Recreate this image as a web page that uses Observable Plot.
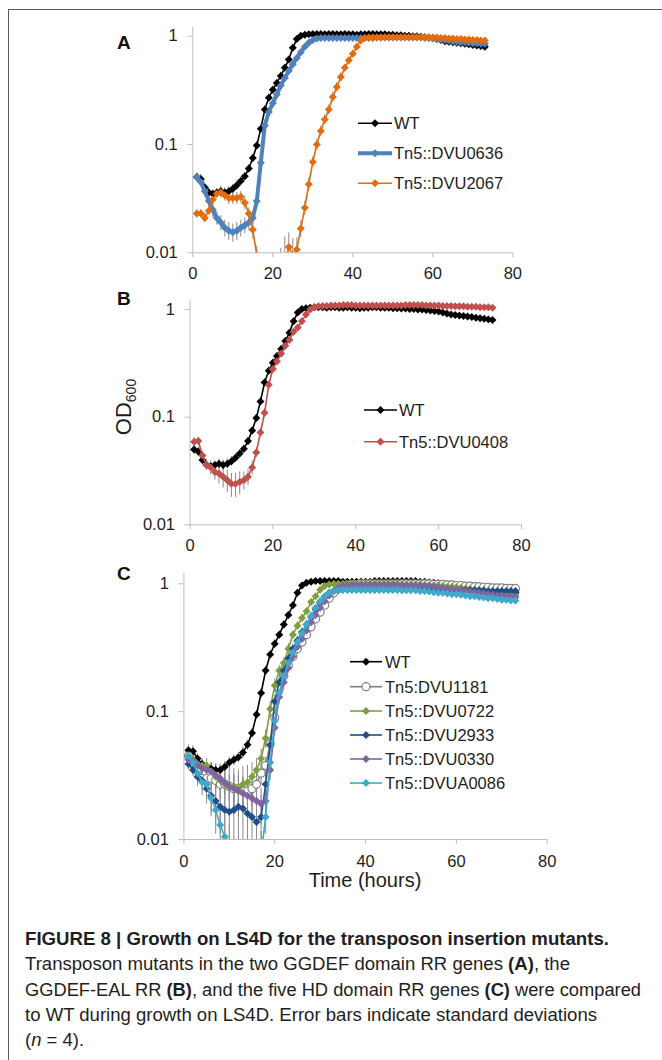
<!DOCTYPE html>
<html><head><meta charset="utf-8">
<script src="https://cdn.jsdelivr.net/npm/d3@7"></script>
<script src="https://cdn.jsdelivr.net/npm/@observablehq/plot@0.6"></script>
<style>
body{margin:0;background:#fff;}
#page{position:relative;width:662px;height:1060px;overflow:hidden;font-family:"Liberation Sans",Arial,sans-serif;}
#frame{position:absolute;left:8px;top:9px;width:800px;height:1200px;border-top:1.5px solid #5a5a5a;border-left:1.5px solid #5a5a5a;}
.panel{position:absolute;left:0;}
.cap{position:absolute;left:25px;white-space:nowrap;font-size:17.5px;color:#1e1e1e;transform-origin:0 50%;line-height:25px;}
</style></head>
<body><div id="page"><div id="frame"></div>
<div id="pA" class="panel" style="top:0px"></div>
<div id="pB" class="panel" style="top:280px"></div>
<div id="pC" class="panel" style="top:550px"></div>
<div class="cap" style="top:927px;font-weight:bold">FIGURE 8 | Growth on LS4D for the transposon insertion mutants.</div>
<div class="cap" style="top:952px">Transposon mutants in the two GGDEF domain RR genes <b>(A)</b>, the</div>
<div class="cap" style="top:978px">GGDEF-EAL RR <b>(B)</b>, and the five HD domain RR genes <b>(C)</b> were compared</div>
<div class="cap" style="top:1003px">to WT during growth on LS4D. Error bars indicate standard deviations</div>
<div class="cap" style="top:1028px">(<i>n</i> = 4).</div>
</div>
<script>
// ---------- data ----------
const hours = [1,2,3,4,5,6,7,8,9,10,11,12,13,14,15,16,17,18,19,20,21,22,23,24,25,26,27,28,29,30,31,32,33,34,35,36,37,38,39,40,41,42,43,44,45,46,47,48,49,50,51,52,53,54,55,56,57,58,59,60,61,62,63,64,65,66,67,68,69,70,71,72,73];
const xTicks = [0,20,40,60,80];
const yTicks = [0.01,0.1,1];
const yTickLabels = ["0.01","0.1","1"];

const wt = [0.050,0.048,0.040,0.036,0.035,0.036,0.037,0.036,0.037,0.039,
 0.042,0.046,0.051,0.060,0.075,0.098,0.14,0.21,0.27,0.32,
 0.37,0.43,0.51,0.61,0.78,0.94,1.01,1.03,1.04,1.05,
 1.05,1.05,1.04,1.05,1.05,1.04,1.04,1.05,1.04,1.04,
 1.03,1.04,1.04,1.05,1.05,1.04,1.04,1.04,1.03,1.03,
 1.02,1.02,1.01,1.01,1.00,1.00,0.99,0.98,0.97,0.96,
 0.94,0.92,0.90,0.89,0.88,0.87,0.86,0.85,0.84,0.83,
 0.82,0.81,0.80];
const dvu0636 = [0.050,0.045,0.037,0.030,0.025,0.021,0.019,0.017,0.016,0.0155,
 0.016,0.017,0.018,0.019,0.021,0.030,0.068,0.15,0.20,0.24,
 0.29,0.35,0.41,0.48,0.55,0.63,0.71,0.80,0.87,0.92,
 0.95,0.96,0.96,0.96,0.96,0.96,0.96,0.96,0.96,0.96,
 0.96,0.96,0.96,0.96,0.96,0.97,0.97,0.97,0.97,0.97,
 0.97,0.97,0.97,0.97,0.97,0.97,0.97,0.96,0.96,0.95,
 0.94,0.93,0.92,0.91,0.90,0.89,0.88,0.88,0.87,0.86,
 0.86,0.85,0.85];
const dvu2067 = [0.023,0.023,0.021,0.0245,0.031,0.035,0.036,0.034,0.032,0.032,
 0.032,0.033,0.029,0.023,0.0163,0.0095,0.006,0.004,0.003,0.003,
 0.004,0.006,0.008,0.0113,0.0095,0.0107,0.0168,0.026,0.043,0.069,
 0.10,0.133,0.17,0.21,0.275,0.34,0.42,0.51,0.60,0.69,
 0.80,0.91,0.96,0.97,0.97,0.97,0.97,0.98,0.98,0.98,
 0.98,0.98,0.98,0.98,0.98,0.98,0.98,0.98,0.97,0.97,
 0.97,0.96,0.96,0.95,0.95,0.94,0.94,0.93,0.93,0.92,
 0.92,0.91,0.91];
const dvu0408 = [0.059,0.060,0.044,0.036,0.034,0.031,0.030,0.028,0.026,0.024,
 0.024,0.025,0.026,0.028,0.034,0.047,0.072,0.11,0.20,0.28,
 0.33,0.39,0.46,0.52,0.62,0.68,0.78,0.90,1.00,1.05,
 1.07,1.08,1.08,1.09,1.09,1.09,1.10,1.10,1.10,1.09,
 1.09,1.09,1.09,1.09,1.09,1.09,1.09,1.09,1.09,1.09,
 1.09,1.10,1.10,1.10,1.10,1.10,1.09,1.09,1.09,1.09,
 1.08,1.08,1.08,1.07,1.07,1.07,1.06,1.06,1.06,1.05,
 1.05,1.05,1.04];
const wtC = [0.050,0.049,0.043,0.039,0.037,0.036,0.035,0.035,0.037,0.040,
 0.042,0.044,0.048,0.055,0.068,0.095,0.14,0.21,0.28,0.34,
 0.40,0.48,0.57,0.68,0.85,0.97,1.02,1.04,1.05,1.05,
 1.05,1.05,1.05,1.05,1.04,1.04,1.04,1.04,1.04,1.04,
 1.04,1.05,1.05,1.05,1.05,1.05,1.05,1.05,1.05,1.05,
 1.05,1.04,1.04,1.03,1.02,1.01,1.00,0.99,0.98,0.97,
 0.96,0.95,0.94,0.93,0.92,0.91,0.90,0.89,0.88,0.87,
 0.86,0.85,0.85];
const dvu1181 = [0.045,0.040,0.035,0.030,0.030,0.030,0.029,0.027,0.027,0.026,
 0.025,0.025,0.024,0.024,0.025,0.027,0.033,0.038,0.056,0.090,
 0.15,0.19,0.23,0.27,0.31,0.35,0.40,0.46,0.53,0.60,
 0.68,0.77,0.85,0.92,0.96,0.98,0.99,0.99,1.00,1.00,
 1.00,1.00,1.00,1.00,1.00,1.00,1.00,1.00,1.00,1.00,
 1.00,1.00,1.00,1.00,0.99,0.99,0.99,0.98,0.98,0.97,
 0.97,0.96,0.96,0.95,0.95,0.94,0.94,0.93,0.93,0.93,
 0.92,0.92,0.92];
const dvu0722 = [0.045,0.042,0.039,0.038,0.038,0.034,0.031,0.029,0.027,0.026,
 0.026,0.025,0.027,0.028,0.031,0.035,0.043,0.062,0.105,0.16,
 0.21,0.24,0.31,0.40,0.47,0.54,0.61,0.72,0.80,0.90,
 0.96,0.99,1.00,1.00,1.00,1.00,1.00,1.00,1.00,1.00,
 1.00,1.00,1.00,1.00,1.00,1.00,1.00,0.99,0.99,0.99,
 0.99,0.99,0.98,0.98,0.97,0.97,0.96,0.95,0.95,0.94,
 0.93,0.92,0.91,0.90,0.89,0.88,0.87,0.86,0.85,0.84,
 0.83,0.83,0.82];
const dvu2933 = [0.039,0.035,0.031,0.029,0.025,0.022,0.020,0.018,0.017,0.0165,
 0.017,0.018,0.0175,0.016,0.015,0.0137,0.015,0.027,0.055,0.12,
 0.17,0.21,0.26,0.31,0.36,0.42,0.48,0.55,0.63,0.71,
 0.79,0.85,0.88,0.89,0.90,0.90,0.90,0.90,0.90,0.90,
 0.90,0.90,0.90,0.90,0.90,0.90,0.90,0.90,0.90,0.90,
 0.90,0.90,0.90,0.90,0.90,0.90,0.90,0.90,0.89,0.89,
 0.89,0.89,0.89,0.89,0.89,0.89,0.88,0.88,0.88,0.88,
 0.88,0.88,0.88];
const dvu0330 = [0.042,0.041,0.038,0.036,0.035,0.034,0.032,0.030,0.028,0.026,
 0.025,0.024,0.023,0.022,0.021,0.020,0.019,0.020,0.035,0.075,
 0.13,0.17,0.22,0.27,0.32,0.37,0.43,0.50,0.57,0.65,
 0.73,0.81,0.88,0.93,0.96,0.97,0.98,0.98,0.98,0.98,
 0.98,0.98,0.98,0.98,0.98,0.98,0.98,0.98,0.97,0.97,
 0.97,0.97,0.96,0.96,0.95,0.94,0.93,0.92,0.91,0.90,
 0.89,0.88,0.87,0.86,0.85,0.84,0.83,0.82,0.81,0.81,
 0.80,0.80,0.79];
const dvuA0086 = [0.045,0.040,0.033,0.028,0.027,0.021,0.017,0.013,0.0105,0.008,
 0.006,0.005,0.004,0.004,0.004,0.005,0.0076,0.015,0.040,0.085,
 0.14,0.19,0.24,0.29,0.35,0.41,0.48,0.56,0.65,0.73,
 0.80,0.85,0.88,0.89,0.90,0.90,0.90,0.90,0.90,0.90,
 0.90,0.90,0.90,0.90,0.90,0.90,0.90,0.89,0.89,0.89,
 0.89,0.88,0.88,0.87,0.86,0.85,0.85,0.84,0.83,0.83,
 0.82,0.81,0.80,0.80,0.79,0.78,0.77,0.77,0.76,0.75,
 0.75,0.74,0.74];

// standard deviations (hours 1-45; later ones hidden under the markers)
const wtSd = [0.005,0.005,0.004,0.004,0.003,0.003,0.004,0.004,0.004,0.004,
 0.004,0.004,0.004,0.005,0.006,0.008,0.012,0.018,0.022,0.025,
 0.03,0.035,0.04,0.04,0.05,0.05,0.03,0.02,0.02,0.02,
 0.02,0.02,0.02,0.02,0.02,0.02,0.02,0.02,0.02,0.02,0.02,0.02,0.02,0.02,0.02];
const dvu0636Sd = [0.003,0.004,0.004,0.004,0.004,0.003,0.003,0.003,0.003,0.003,
 0.003,0.003,0.003,0.003,0.003,0.004,0.008,0.015,0.02,0.02,
 0.025,0.03,0.03,0.035,0.04,0.04,0.04,0.04,0.04,0.03,
 0.02,0.02,0.02,0.02,0.02,0.02,0.02,0.02,0.02,0.02,0.02,0.02,0.02,0.02,0.02];
const dvu2067Sd = [0.002,0.002,0.002,0.002,0.003,0.003,0.004,0.004,0.004,0.004,
 0.004,0.004,0.004,0.003,0.003,0.002,0.002,0.002,0.002,0.003,
 0.004,0.005,0.006,0.004,0.004,0.003,0.003,0.004,0.006,0.008,
 0.012,0.015,0.018,0.022,0.03,0.035,0.04,0.04,0.04,0.04,0.04,0.04,0.03,0.02,0.02];
const dvu0408Sd = [0.005,0.005,0.004,0.004,0.005,0.005,0.006,0.006,0.006,0.006,
 0.006,0.006,0.005,0.005,0.005,0.005,0.006,0.01,0.015,0.02,
 0.025,0.03,0.03,0.035,0.04,0.04,0.04,0.04,0.03,0.03,
 0.02,0.02,0.02,0.02,0.02,0.02,0.02,0.02,0.02,0.02,0.02,0.02,0.02,0.02,0.02];
const wtCSd = [0.005,0.005,0.004,0.004,0.004,0.004,0.004,0.004,0.004,0.004,
 0.004,0.004,0.005,0.005,0.006,0.008,0.012,0.018,0.022,0.025,
 0.03,0.035,0.04,0.04,0.05,0.05,0.03,0.02,0.02,0.02,
 0.02,0.02,0.02,0.02,0.02,0.02,0.02,0.02,0.02,0.02,0.02,0.02,0.02,0.02,0.02];
const dvu1181Sd = [0.004,0.004,0.004,0.004,0.004,0.005,0.005,0.006,0.006,0.006,
 0.007,0.007,0.007,0.007,0.007,0.007,0.006,0.006,0.008,0.012,
 0.02,0.02,0.025,0.03,0.03,0.03,0.035,0.04,0.04,0.04,
 0.04,0.04,0.03,0.02,0.02,0.02,0.02,0.02,0.02,0.02,0.02,0.02,0.02,0.02,0.02];
const dvu0722Sd = [0.004,0.004,0.004,0.004,0.005,0.006,0.008,0.009,0.010,0.010,
 0.010,0.010,0.010,0.010,0.009,0.008,0.008,0.010,0.015,0.02,
 0.02,0.025,0.03,0.03,0.035,0.04,0.04,0.04,0.04,0.03,
 0.02,0.02,0.02,0.02,0.02,0.02,0.02,0.02,0.02,0.02,0.02,0.02,0.02,0.02,0.02];
const dvu2933Sd = [0.004,0.004,0.005,0.005,0.006,0.006,0.007,0.007,0.007,0.007,
 0.008,0.008,0.008,0.008,0.008,0.008,0.007,0.006,0.008,0.015,
 0.02,0.02,0.025,0.03,0.03,0.035,0.04,0.04,0.04,0.04,
 0.03,0.02,0.02,0.02,0.02,0.02,0.02,0.02,0.02,0.02,0.02,0.02,0.02,0.02,0.02];
const dvu0330Sd = [0.004,0.004,0.004,0.005,0.005,0.005,0.006,0.006,0.006,0.006,
 0.007,0.007,0.007,0.007,0.006,0.006,0.006,0.005,0.006,0.010,
 0.015,0.02,0.02,0.025,0.03,0.03,0.035,0.04,0.04,0.04,
 0.03,0.02,0.02,0.02,0.02,0.02,0.02,0.02,0.02,0.02,0.02,0.02,0.02,0.02,0.02];
const dvuA0086Sd = [0.004,0.005,0.005,0.006,0.006,0.006,0.006,0.006,0.005,0.005,
 0.004,0.004,0.004,0.004,0.004,0.004,0.004,0.004,0.006,0.010,
 0.015,0.02,0.02,0.025,0.03,0.03,0.035,0.04,0.04,0.04,
 0.03,0.02,0.02,0.02,0.02,0.02,0.02,0.02,0.02,0.02,0.02,0.02,0.02,0.02,0.02];

// ---------- drawing ----------
const FONT = "'Liberation Sans', Arial, Helvetica, sans-serif";
const AXIS = "#bdbdbd";
const TXT = "#1e1e1e";

function rowsOf(values, sd) {
  return hours.map((t, i) => {
    const v = values[i], s = sd[i] ?? 0;
    return {t, v, lo: Math.max(v - s, 1e-4), hi: v + s};
  });
}

const panels = [
  {id: "pA", height: 290, mL: 192.3, mR: 149.7, mT: 27.1, mB: 37.7, pad: 9.5,
   letter: {text: "A", x: 117, y: 48.5},
   legend: {x1: 358, x2: 392, tx: 394, ys: [123.3, 153.3, 183.3]},
   series: [
     {name: "WT", values: wt, sd: wtSd, color: "#000000", w: 1.6, sym: "diamond"},
     {name: "Tn5::DVU0636", values: dvu0636, sd: dvu0636Sd, color: "#4f81bd", w: 4, sym: "diamond"},
     {name: "Tn5::DVU2067", values: dvu2067, sd: dvu2067Sd, color: "#e46c0a", w: 1.6, sym: "diamond"}
   ]},
  {id: "pB", height: 290, mL: 189.5, mR: 141, mT: 20.5, mB: 45.7, pad: 9.5,
   letter: {text: "B", x: 117, y: 24.5},
   ylabel: {x: 131, y: 127},
   legend: {x1: 364, x2: 397, tx: 399, ys: [130, 161.7]},
   series: [
     {name: "WT", values: wt, sd: wtSd, color: "#000000", w: 1.6, sym: "diamond"},
     {name: "Tn5::DVU0408", values: dvu0408, sd: dvu0408Sd, color: "#c0504d", w: 1.6, sym: "diamond"}
   ]},
  {id: "pC", height: 350, mL: 183.4, mR: 115.3, mT: 23.2, mB: 61, pad: 11,
   letter: {text: "C", x: 117, y: 29.5},
   xlabel: {x: 365, y: 337},
   legend: {x1: 350, x2: 382, tx: 385, ys: [111.7, 136.7, 161, 185, 209, 233]},
   series: [
     {name: "WT", values: wtC, sd: wtCSd, color: "#000000", w: 1.6, sym: "diamond"},
     {name: "Tn5:DVU1181", values: dvu1181, sd: dvu1181Sd, color: "#7f7f7f", w: 1.6, sym: "circle"},
     {name: "Tn5::DVU0722", values: dvu0722, sd: dvu0722Sd, color: "#7f9f3c", w: 1.6, sym: "diamond"},
     {name: "Tn5::DVU2933", values: dvu2933, sd: dvu2933Sd, color: "#1f4e89", w: 1.6, sym: "diamond"},
     {name: "Tn5::DVU0330", values: dvu0330, sd: dvu0330Sd, color: "#8064a2", w: 1.6, sym: "diamond"},
     {name: "Tn5::DVUA0086", values: dvuA0086, sd: dvuA0086Sd, color: "#3fa9c9", w: 1.6, sym: "diamond"}
   ]}
];

const DIAMOND_R = 3.6;
const CIRCLE_R = 4;

for (const p of panels) {
  const marks = [
    Plot.ruleX([0], {stroke: AXIS, strokeWidth: 1}),
    Plot.ruleY([0.01], {stroke: AXIS, strokeWidth: 1}),
    Plot.axisX({ticks: xTicks, tickSize: 5, tickPadding: p.pad, stroke: AXIS, fill: TXT, tickFormat: d => String(d), label: null}),
    Plot.axisY({ticks: yTicks, tickSize: 5, tickPadding: 10, stroke: AXIS, fill: TXT, tickFormat: d => yTickLabels[yTicks.indexOf(d)], label: null})
  ];
  const data = p.series.map(s => rowsOf(s.values, s.sd));
  p.series.forEach((s, k) => {
    marks.push(Plot.ruleX(data[k], {x: "t", y1: "lo", y2: "hi", stroke: "#8a8a8a", strokeWidth: 1, clip: true}));
  });
  p.series.forEach((s, k) => {
    marks.push(Plot.line(data[k], {x: "t", y: "v", stroke: s.color, strokeWidth: s.w, clip: true}));
    if (s.sym === "circle") {
      marks.push(Plot.dot(data[k], {x: "t", y: "v", r: CIRCLE_R, fill: "#ffffff", stroke: s.color, strokeWidth: 1.2, clip: true}));
    } else {
      marks.push(Plot.dot(data[k], {x: "t", y: "v", r: DIAMOND_R, symbol: d3.symbolDiamond2, fill: s.color, stroke: "none", clip: true}));
    }
  });

  const svg = Plot.plot({
    width: 662, height: p.height,
    marginLeft: p.mL, marginRight: p.mR, marginTop: p.mT, marginBottom: p.mB,
    x: {domain: [0, 80], label: null},
    y: {type: "log", domain: [0.01, 1.2], label: null},
    style: {fontFamily: FONT, fontSize: "16.5px", background: "transparent", overflow: "visible", color: TXT},
    marks
  });
  document.getElementById(p.id).appendChild(svg);

  const g = d3.select(svg).append("g").attr("font-family", FONT).attr("text-anchor", "start");
  // panel letter
  g.append("text").attr("x", p.letter.x).attr("y", p.letter.y).attr("text-anchor", "start")
    .attr("font-size", 19).attr("font-weight", "bold").attr("fill", "#111").text(p.letter.text);
  // legend
  const L = p.legend;
  p.series.forEach((s, k) => {
    const y = L.ys[k], cx = (L.x1 + L.x2) / 2;
    g.append("line").attr("x1", L.x1).attr("x2", L.x2).attr("y1", y).attr("y2", y)
      .attr("stroke", s.color).attr("stroke-width", s.w);
    if (s.sym === "circle") {
      g.append("circle").attr("cx", cx).attr("cy", y).attr("r", CIRCLE_R)
        .attr("fill", "#fff").attr("stroke", s.color).attr("stroke-width", 1.2);
    } else {
      g.append("path").attr("transform", `translate(${cx},${y})`)
        .attr("d", d3.symbol(d3.symbolDiamond2, Math.PI * DIAMOND_R * DIAMOND_R)())
        .attr("fill", s.color);
    }
    g.append("text").attr("x", L.tx).attr("y", y).attr("dy", "0.36em").attr("text-anchor", "start")
      .attr("font-size", 16.5).attr("fill", TXT).text(s.name);
  });
  if (p.ylabel) {
    const t = g.append("text").attr("transform", `translate(${p.ylabel.x},${p.ylabel.y}) rotate(-90)`)
      .attr("text-anchor", "middle").attr("font-size", 22).attr("fill", TXT);
    t.append("tspan").text("OD");
    t.append("tspan").attr("font-size", 14).attr("dy", 5).text("600");
  }
  if (p.xlabel) {
    g.append("text").attr("x", p.xlabel.x).attr("y", p.xlabel.y).attr("text-anchor", "middle")
      .attr("font-size", 20).attr("fill", TXT).text("Time (hours)");
  }
}

// caption: fit each line to the width it has in the figure
const capWidths = [584, 545, 616, 572, null];
const caps = document.querySelectorAll(".cap");
let scales = [];
caps.forEach((el, i) => {
  if (capWidths[i]) {
    const w = el.getBoundingClientRect().width;
    const s = capWidths[i] / w;
    scales.push(s);
    el.style.transform = `scaleX(${s})`;
  }
});
const avg = scales.reduce((a, b) => a + b, 0) / scales.length;
caps.forEach((el, i) => { if (!capWidths[i]) el.style.transform = `scaleX(${avg})`; });
</script>
</body></html>
